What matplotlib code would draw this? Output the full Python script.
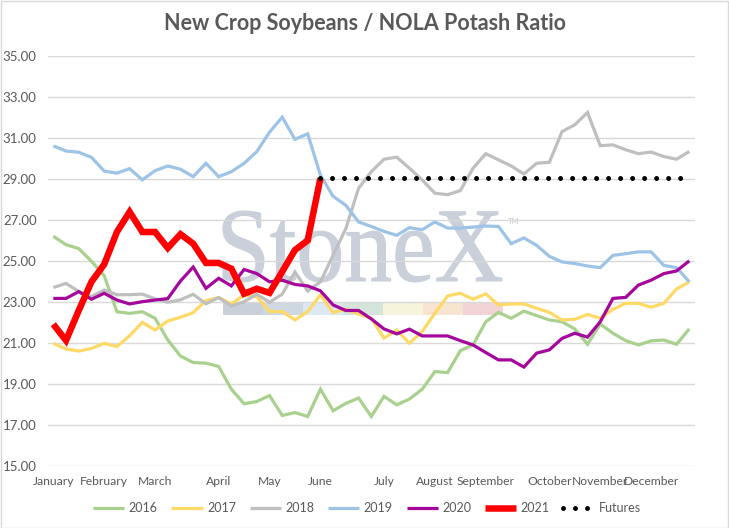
import numpy as np
import matplotlib
matplotlib.use("Agg")
import matplotlib.pyplot as plt
from matplotlib.patches import Rectangle, PathPatch
from matplotlib.textpath import TextPath
from matplotlib.font_manager import FontProperties
from matplotlib.transforms import Affine2D, IdentityTransform

# ---------------- data ----------------
months = ["January", "February", "March", "April", "May", "June", "July",
          "August", "September", "October", "November", "December"]
month_week = [0, 4, 8, 13, 17, 21, 26, 30, 34, 39, 43, 47]

s2016 = [26.22, 25.81, 25.62, 25.0, 24.3, 22.54, 22.46, 22.54, 22.22, 21.16,
         20.38, 20.06, 20.03, 19.87, 18.76, 18.05, 18.16, 18.45, 17.48, 17.62,
         17.43, 18.76, 17.71, 18.07, 18.33, 17.43, 18.41, 18.0, 18.28, 18.76,
         19.62, 19.57, 20.64, 20.92, 22.05, 22.51, 22.22, 22.57, 22.35, 22.14,
         22.05, 21.7, 20.95, 21.94, 21.49, 21.13, 20.92, 21.12, 21.16, 20.95, 21.7]
s2017 = [21.0, 20.72, 20.62, 20.75, 21.0, 20.84, 21.37, 22.02, 21.65, 22.09,
         22.27, 22.5, 23.08, 23.23, 22.92, 23.36, 23.28, 22.55, 22.55, 22.14,
         22.55, 23.36, 22.5, 22.66, 22.43, 22.22, 21.25, 21.65, 21.0, 21.57,
         22.47, 23.31, 23.44, 23.15, 23.41, 22.87, 22.92, 22.92, 22.71, 22.51,
         22.14, 22.17, 22.41, 22.22, 22.66, 22.95, 22.95, 22.76, 22.95, 23.65, 24.0]
s2018 = [23.72, 23.92, 23.53, 23.28, 23.6, 23.37, 23.37, 23.4, 23.17, 23.0,
         23.12, 23.39, 22.93, 23.23, 22.82, 23.03, 23.39, 23.0, 23.4, 24.48,
         23.55, 24.0, 25.3, 26.6, 28.56, 29.37, 29.98, 30.08, 29.54, 28.97,
         28.32, 28.25, 28.45, 29.54, 30.25, 29.95, 29.65, 29.26, 29.78, 29.83,
         31.33, 31.66, 32.26, 30.64, 30.68, 30.44, 30.25, 30.33, 30.11, 29.98, 30.36]
s2019 = [30.63, 30.38, 30.32, 30.07, 29.4, 29.3, 29.52, 28.97, 29.42, 29.65,
         29.49, 29.13, 29.78, 29.13, 29.37, 29.78, 30.35, 31.3, 32.03, 30.95,
         31.22, 29.2, 28.17, 27.73, 26.92, 26.7, 26.46, 26.27, 26.64, 26.54,
         26.92, 26.62, 26.62, 26.67, 26.72, 26.7, 25.86, 26.14, 25.78, 25.24,
         24.97, 24.89, 24.77, 24.69, 25.29, 25.37, 25.46, 25.46, 24.8, 24.69, 24.0]
s2020 = [23.19, 23.19, 23.52, 23.15, 23.44, 23.11, 22.92, 23.03, 23.11, 23.18,
         24.04, 24.72, 23.68, 24.17, 23.8, 24.6, 24.4, 24.0, 24.08, 23.87,
         23.8, 23.56, 22.87, 22.6, 22.6, 22.19, 21.7, 21.46, 21.69, 21.36,
         21.36, 21.36, 21.13, 20.92, 20.55, 20.19, 20.19, 19.84, 20.52, 20.68,
         21.24, 21.49, 21.3, 22.05, 23.19, 23.24, 23.84, 24.08, 24.4, 24.53, 25.02]
s2021 = [21.93, 21.14, 22.6, 24.0, 24.85, 26.43, 27.41, 26.43, 26.43, 25.65,
         26.32, 25.86, 24.92, 24.92, 24.64, 23.42, 23.66, 23.46, 24.5, 25.55,
         26.02, 29.05]
futures_start = 21
futures_value = [29.05] * 30

series_names = ["2016", "2017", "2018", "2019", "2020", "2021"]
series_colors = ["#A9D18E", "#FFD966", "#BFBFBF", "#9DC3E6", "#A5069C", "#FF0000"]
series_widths = [2.3, 2.3, 2.3, 2.3, 2.3, 4.7]

# ---------------- figure ----------------
W, H = 729, 528
fig = plt.figure(figsize=(W / 100, H / 100), dpi=100)
fig.patch.set_facecolor("white")

ax_left, ax_right, ax_top, ax_bot = 47.7, 695.0, 56.3, 466.3
ax = fig.add_axes([ax_left / W, 1 - ax_bot / H, (ax_right - ax_left) / W,
                   (ax_bot - ax_top) / H])
ax.set_facecolor("none")

label_font = ["Lato", "DejaVu Sans"]

# watermark (pixel coordinates, drawn behind the grid)
fp = FontProperties(family=["Liberation Serif", "DejaVu Serif"])
tp = TextPath((0, 0), "StoneX", size=1, prop=fp)
bb = tp.get_extents()
tx0, tx1, ty_top, ty_bot = 223, 502, 211, 282
sx = (tx1 - tx0) / bb.width
sy = (ty_bot - ty_top) / bb.height
trans = Affine2D().translate(-bb.x0, -bb.y0).scale(sx, sy).translate(tx0, H - ty_bot)
wm = PathPatch(trans.transform_path(tp), facecolor="#C9D0DA", edgecolor="#C9D0DA",
               lw=0.8, transform=IdentityTransform(), zorder=0.1)
ax.add_patch(wm)
ax.text(508, H - 222, "TM", transform=IdentityTransform(), fontsize=5.5,
        color="#C0C7D1", ha="left", va="center", zorder=0.1,
        family=["Lato", "DejaVu Sans"])
bar_colors = ["#C9D0DA", "#CFD7E1", "#DCE8F2", "#D4E4DB", "#F6F4DB", "#F8E5CF", "#F2D4D7"]
for k, c in enumerate(bar_colors):
    r = Rectangle((223 + 40 * k, H - 315), 40, 12.5, facecolor=c, edgecolor="none",
                  transform=IdentityTransform(), zorder=0.1)
    ax.add_patch(r)

# series
all_series = [s2016, s2017, s2018, s2019, s2020, s2021]
for name, vals, col, lw in zip(series_names, all_series, series_colors, series_widths):
    x = np.arange(len(vals))
    ax.plot(x, vals, color=col, lw=lw, label=name, solid_joinstyle="miter",
            solid_capstyle="butt", zorder=3)

fx = np.arange(futures_start, futures_start + len(futures_value))
ax.plot(fx, futures_value, color="black", lw=3.6, linestyle=(0, (0.001, 2.4)),
        dash_capstyle="round", label="Futures", zorder=4)

# axes styling
ax.set_xlim(-0.44, 50.45)
ax.set_ylim(15, 35)
yt = np.arange(15, 36, 2)
ax.set_yticks(yt)
ax.set_yticklabels([f"{v:.2f}" for v in yt])
ax.set_xticks(month_week)
ax.set_xticklabels(months)
ax.grid(axis="y", color="#D9D9D9", lw=1.0)
ax.set_axisbelow(True)
for s in ax.spines.values():
    s.set_visible(False)
ax.tick_params(axis="both", length=0, colors="#595959")
ax.tick_params(axis="y", pad=8, labelsize=9.5)
ax.tick_params(axis="x", pad=7, labelsize=8.7)
for lab in ax.get_xticklabels() + ax.get_yticklabels():
    lab.set_family(label_font)

# title
fig.text(364.5 / W, 1 - 23 / H, "New Crop Soybeans / NOLA Potash Ratio",
         ha="center", va="center", fontsize=15.5, fontweight="bold",
         color="#595959", family=["Lato", "DejaVu Sans"])

# legend
handles, labels = ax.get_legend_handles_labels()
leg = fig.legend(handles, labels, loc="center", bbox_to_anchor=(367 / W, 1 - 508 / H),
                 ncol=7, frameon=False, handlelength=2.5, handletextpad=0.35,
                 columnspacing=1.1, prop=FontProperties(family=label_font, size=9))
for t in leg.get_texts():
    t.set_color("#595959")

# outer border
fig.add_artist(Rectangle((0.5 / W, 0.5 / H), (W - 1.5) / W, (H - 1.5) / H,
                         transform=fig.transFigure, facecolor="none",
                         edgecolor="#D9D9D9", lw=1.0))

fig.savefig("out.png", dpi=100)
